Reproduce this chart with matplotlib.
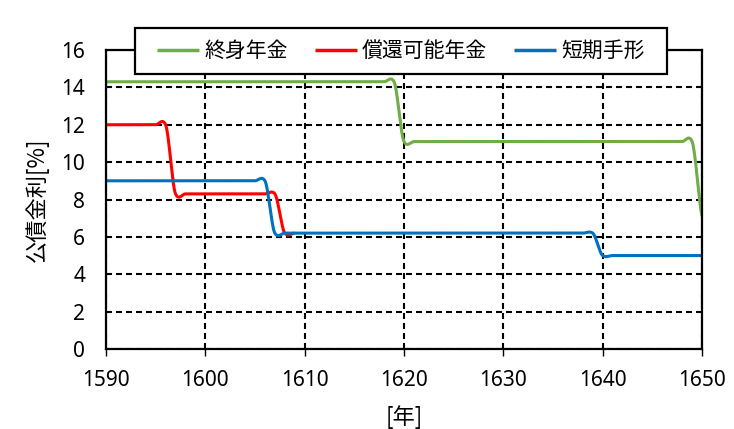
import numpy as np
import matplotlib
matplotlib.use("Agg")
import matplotlib.pyplot as plt
from matplotlib.patches import Rectangle

plt.rcParams['font.family'] = ['Noto Sans', 'Noto Sans CJK JP']

# --- data (key points of each series) ---
years_life = [1590, 1618, 1619, 1620, 1621, 1648, 1649, 1650]
rate_life = [14.3, 14.3, 14.3, 11.1, 11.1, 11.1, 11.1, 7.1]

years_redeem = [1590, 1595, 1596, 1597, 1598, 1606, 1607, 1608, 1609]
rate_redeem = [12.0, 12.0, 12.0, 8.3, 8.3, 8.3, 8.3, 6.2, 6.2]

years_short = [1590, 1605, 1606, 1607, 1608, 1638, 1639, 1640, 1641, 1650]
rate_short = [9.0, 9.0, 9.0, 6.2, 6.2, 6.2, 6.2, 5.0, 5.0, 5.0]

labels = ['終身年金', '償還可能年金', '短期手形']
colors = ['#70AD47', '#FF0000', '#0070C0']

xticks = [1590, 1600, 1610, 1620, 1630, 1640, 1650]
yticks = [0, 2, 4, 6, 8, 10, 12, 14, 16]


def smooth(xs, ys, tension=0.32, n=30):
    """Excel-like smoothed line (Hermite spline through the points)."""
    xs = np.asarray(xs, float)
    ys = np.asarray(ys, float)
    m = np.zeros_like(ys)
    for i in range(len(xs)):
        if i == 0:
            m[i] = 0.0
        elif i == len(xs) - 1:
            m[i] = (ys[i] - ys[i - 1]) / (xs[i] - xs[i - 1])
        else:
            m[i] = (ys[i + 1] - ys[i - 1]) / (xs[i + 1] - xs[i - 1])
    m *= tension * 2
    ox, oy = [], []
    for i in range(len(xs) - 1):
        h = xs[i + 1] - xs[i]
        t = np.linspace(0, 1, n, endpoint=(i == len(xs) - 2))
        h00 = 2 * t**3 - 3 * t**2 + 1
        h10 = t**3 - 2 * t**2 + t
        h01 = -2 * t**3 + 3 * t**2
        h11 = t**3 - t**2
        ox.append(xs[i] + t * h)
        oy.append(h00 * ys[i] + h10 * h * m[i] + h01 * ys[i + 1] + h11 * h * m[i + 1])
    return np.concatenate(ox), np.concatenate(oy)


W, H = 734, 429
fig = plt.figure(figsize=(W / 100, H / 100), dpi=100)
ax = fig.add_axes([106 / W, 1 - 349 / H, 596 / W, 299 / H])

for (xs, ys), lab, col in zip([(years_life, rate_life),
                               (years_redeem, rate_redeem),
                               (years_short, rate_short)], labels, colors):
    sx, sy = smooth(xs, ys)
    ax.plot(sx, sy, color=col, lw=2.2, label=lab, solid_capstyle='butt', zorder=3)

ax.set_xlim(1590, 1650)
ax.set_ylim(0, 16)
ax.set_xticks(xticks)
ax.set_yticks(yticks)
ax.grid(True, color='black', linestyle=(0, (2.9, 1.9)), linewidth=1.5, zorder=1)
for s in ax.spines.values():
    s.set_color('black')
    s.set_linewidth(1.6)
    s.set_zorder(4)
ax.tick_params(axis='x', direction='out', length=5, width=1, labelsize=15, pad=10)
ax.tick_params(axis='y', length=0, labelsize=15, pad=15)

ax.set_ylabel('公債金利[%]', fontsize=16, labelpad=9,
              fontfamily=['Noto Sans CJK JP'])
ax.set_xlabel('[年]', fontsize=16, labelpad=10,
              fontfamily=['Noto Sans CJK JP'])

# legend box
rect = Rectangle((135 / W, 1 - 74 / H), 532 / W, 46 / H, transform=fig.transFigure,
                 facecolor='white', edgecolor='black', linewidth=1.6,
                 clip_on=False, zorder=9)
ax.add_patch(rect)

leg = ax.legend(loc='center', bbox_to_anchor=(0.495, 0.9967), ncol=3, frameon=False,
                fontsize=15, handlelength=2.0, handletextpad=0.25,
                columnspacing=1.3, borderpad=0.2)
leg.set_zorder(10)
for t in leg.get_texts():
    t.set_fontfamily(['Noto Sans CJK JP'])
for l in leg.get_lines():
    l.set_linewidth(2.5)

fig.savefig('out.png', dpi=100)
